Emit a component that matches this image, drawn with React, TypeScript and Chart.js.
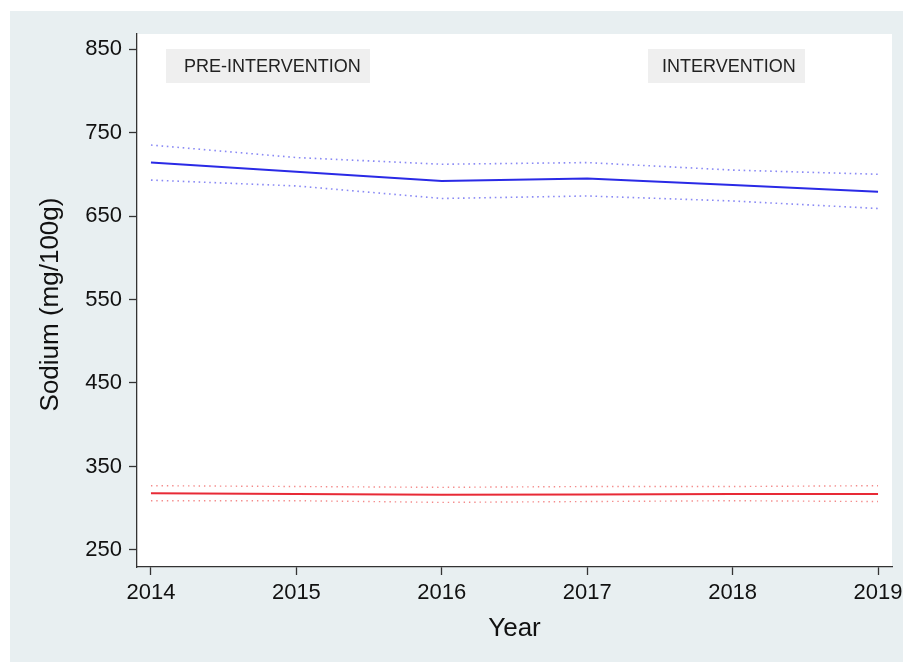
import React, { useEffect, useRef } from "react";
import { Chart, registerables } from "chart.js";

Chart.register(...registerables);

// Survey years
const years = [2014, 2015, 2016, 2017, 2018, 2019];
const yTicks = [250, 350, 450, 550, 650, 750, 850];

// Mean sodium (mg/100g) with 95% confidence bounds
const blueMean = [714, 703, 692, 695, 687, 679];
const blueUpper = [735, 720, 712, 714, 705, 700];
const blueLower = [693, 686, 671, 674, 668, 659];

const redMean = [318, 317, 316, 316.5, 317, 317];
const redUpper = [327, 326, 325, 326, 326, 327];
const redLower = [309, 309, 307, 308, 309, 308];

const periodLabels = ["PRE-INTERVENTION", "INTERVENTION"];

const FONT = "'Liberation Sans', Arial, sans-serif";

const pts = (vals: number[]) => vals.map((v, i) => ({ x: years[i], y: v }));

const backgroundPlugin = {
  id: "panelBackground",
  beforeDraw(chart: any) {
    const { ctx, chartArea } = chart;
    ctx.save();
    ctx.fillStyle = "#ffffff";
    ctx.fillRect(0, 0, chart.width, chart.height);
    ctx.fillStyle = "#e8eff1";
    ctx.fillRect(10, 11, chart.width - 10, chart.height - 11);
    ctx.fillStyle = "#ffffff";
    ctx.fillRect(chartArea.left, chartArea.top, chartArea.right - chartArea.left, chartArea.bottom - chartArea.top);
    ctx.restore();
  },
};

const annotationPlugin = {
  id: "periodBoxesAndTitles",
  afterDraw(chart: any) {
    const { ctx, chartArea } = chart;
    ctx.save();
    // period boxes
    const boxes = [
      { x: chartArea.left + 29, w: 204, pad: 18 },
      { x: chartArea.left + 511, w: 157, pad: 14 },
    ];
    const top = chartArea.top + 15;
    const h = 34;
    ctx.font = `18px ${FONT}`;
    ctx.textBaseline = "middle";
    ctx.textAlign = "left";
    boxes.forEach((b, i) => {
      ctx.fillStyle = "#efefef";
      ctx.fillRect(b.x, top, b.w, h);
      ctx.fillStyle = "#222222";
      ctx.fillText(periodLabels[i], b.x + b.pad, top + h / 2 + 1);
    });
    // axis titles
    ctx.fillStyle = "#111111";
    ctx.font = `26px ${FONT}`;
    ctx.textAlign = "center";
    ctx.fillText("Year", (chartArea.left + chartArea.right) / 2, 629);
    ctx.translate(51, (chartArea.top + chartArea.bottom) / 2 + 4);
    ctx.rotate(-Math.PI / 2);
    ctx.fillText("Sodium (mg/100g)", 0, 0);
    ctx.restore();
  },
};

export default function App() {
  const ref = useRef<HTMLCanvasElement | null>(null);

  useEffect(() => {
    if (!ref.current) return;
    const mk = (data: number[], color: string, width: number, dash?: number[]) => ({
      data: pts(data),
      borderColor: color,
      borderWidth: width,
      borderDash: dash ?? [],
      pointRadius: 0,
      fill: false,
      tension: 0,
    });
    const chart = new Chart(ref.current, {
      type: "line",
      data: {
        datasets: [
          mk(blueUpper, "#8a8af5", 1.6, [1.6, 3.7]),
          mk(blueLower, "#8a8af5", 1.6, [1.6, 3.7]),
          mk(blueMean, "#2a2ae6", 2),
          mk(redUpper, "#f48a8a", 1.4, [1.4, 3.9]),
          mk(redLower, "#f48a8a", 1.4, [1.4, 3.9]),
          mk(redMean, "#e82a36", 2),
        ] as any,
      },
      options: {
        animation: false,
        responsive: false,
        maintainAspectRatio: false,
        layout: { padding: { left: 0, top: 34, right: 11, bottom: 0 } },
        plugins: {
          legend: { display: false },
          tooltip: { enabled: false },
        },
        scales: {
          x: {
            type: "linear",
            min: 2013.904,
            max: 2019.096,
            afterBuildTicks: (s: any) => {
              s.ticks = years.map((v) => ({ value: v }));
            },
            afterFit: (s: any) => {
              s.height = 95;
              s.paddingLeft = 0;
              s.paddingRight = 0;
            },
            grid: {
              drawOnChartArea: false,
              drawTicks: true,
              tickLength: 8,
              tickColor: "#333333",
              tickWidth: 1.3,
            },
            border: { display: true, color: "#333333", width: 1.3 },
            ticks: {
              autoSkip: false,
              maxRotation: 0,
              padding: 5,
              color: "#111111",
              font: { family: FONT, size: 22 },
              callback: (v: any) => String(v),
            },
          },
          y: {
            type: "linear",
            min: 229.6,
            max: 868,
            afterBuildTicks: (s: any) => {
              s.ticks = yTicks.map((v) => ({ value: v }));
            },
            afterFit: (s: any) => {
              s.width = 137;
              s.paddingTop = 0;
              s.paddingBottom = 0;
            },
            grid: {
              drawOnChartArea: false,
              drawTicks: true,
              tickLength: 8,
              tickColor: "#333333",
              tickWidth: 1.3,
            },
            border: { display: true, color: "#333333", width: 1.3 },
            ticks: {
              padding: 7,
              color: "#111111",
              font: { family: FONT, size: 22 },
              callback: (v: any) => String(v),
            },
          },
        },
      },
      plugins: [backgroundPlugin, annotationPlugin],
    });
    return () => chart.destroy();
  }, []);

  return (
    <div style={{ position: "fixed", left: 0, top: 0, width: 903, height: 662 }}>
      <canvas ref={ref} width={903} height={662} style={{ width: 903, height: 662, display: "block" }} />
    </div>
  );
}
